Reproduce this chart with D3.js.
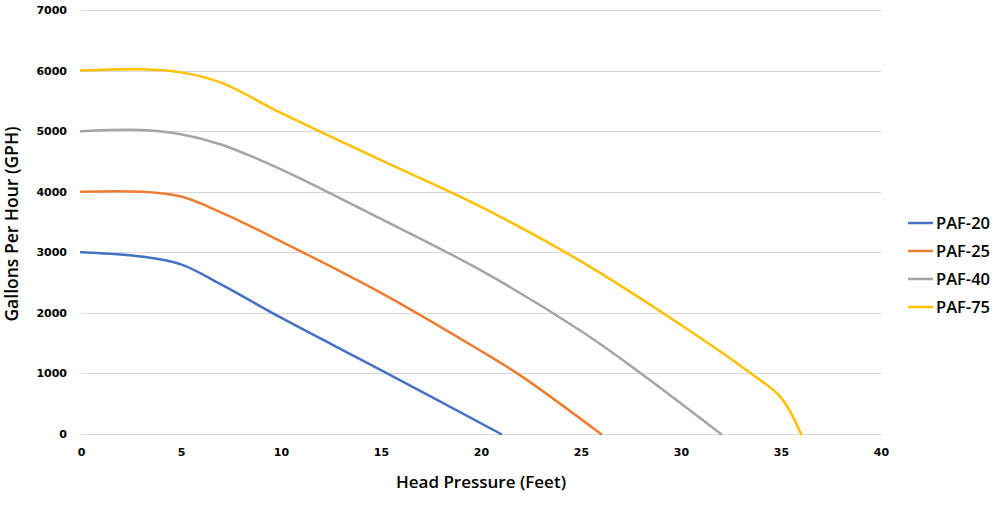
<!DOCTYPE html>
<html><head><meta charset="utf-8">
<script src="https://cdn.jsdelivr.net/npm/d3@7/dist/d3.min.js"></script>
<style>body{margin:0;background:#fff}</style>
</head><body>
<svg id="c" width="1004" height="509"></svg>
<script>
const seriesNames = ["PAF-20", "PAF-25", "PAF-40", "PAF-75"];
const seriesColors = ["#4472C4", "#ED7D31", "#A5A5A5", "#FFC000"];
const paf20 = [[0,3000],[3,2930],[5,2800],[7,2470],[10,1920],[15,1055],[21,0]];
const paf25 = [[0,4000],[3,4000],[5,3920],[7,3660],[10,3180],[15,2330],[20,1370],[22,960],[26,0]];
const paf40 = [[0,5000],[3,5020],[5,4950],[7,4780],[10,4370],[15,3550],[20,2700],[25,1700],[28,1000],[32,0]];
const paf75 = [[0,6000],[3,6020],[5,5970],[7,5800],[10,5300],[15,4520],[20,3750],[25,2850],[30,1800],[33.5,1000],[35,600],[36,0]];
const xTicks = [0,5,10,15,20,25,30,35,40];
const yTicks = [0,1000,2000,3000,4000,5000,6000,7000];
const allSeries = [paf20, paf25, paf40, paf75];

const svg = d3.select("#c");
const x = d3.scaleLinear().domain([0,40]).range([81,881]);
const y = d3.scaleLinear().domain([0,7000]).range([434,10]);

svg.append("g").selectAll("line").data(yTicks).join("line")
  .attr("x1", x(0)).attr("x2", x(40))
  .attr("y1", d=>Math.round(y(d))+0.5).attr("y2", d=>Math.round(y(d))+0.5)
  .attr("stroke", "#d9d9d9").attr("stroke-width", 1);

const yAxis = d3.axisLeft(y).tickValues(yTicks).tickSize(0).tickPadding(14).tickFormat(d3.format("d"));
const gy = svg.append("g").attr("transform", `translate(${x(0)},0)`).call(yAxis);
gy.select(".domain").remove();
gy.selectAll("text").attr("font-family","DejaVu Sans").attr("font-weight","bold").attr("font-size","11px").attr("fill","#000");

const xAxis = d3.axisBottom(x).tickValues(xTicks).tickSize(0).tickPadding(14);
const gx = svg.append("g").attr("transform", `translate(0,${y(0)})`).call(xAxis);
gx.select(".domain").remove();
gx.selectAll("text").attr("font-family","DejaVu Sans").attr("font-weight","bold").attr("font-size","11px").attr("fill","#000");

const line = d3.line().x(d=>x(d[0])).y(d=>y(d[1])).curve(d3.curveCatmullRom.alpha(0.5));
svg.append("g").selectAll("path").data(allSeries).join("path")
  .attr("d", line).attr("fill","none")
  .attr("stroke", (d,i)=>seriesColors[i]).attr("stroke-width", 2.5)
  .attr("stroke-linecap","round");

svg.append("text").attr("x", 481).attr("y", 488).attr("text-anchor","middle")
  .attr("font-family","Open Sans").attr("font-weight","600").attr("font-size","17px").attr("fill","#000")
  .text("Head Pressure (Feet)");
svg.append("text").attr("transform","translate(18,224) rotate(-90)").attr("text-anchor","middle")
  .attr("font-family","Open Sans").attr("font-weight","600").attr("font-size","17.5px").attr("fill","#000")
  .text("Gallons Per Hour (GPH)");

const lg = svg.append("g").selectAll("g").data(seriesNames).join("g")
  .attr("transform", (d,i)=>`translate(908,${223 + i*28})`);
lg.append("line").attr("x1",0).attr("x2",25).attr("y1",0).attr("y2",0)
  .attr("stroke",(d,i)=>seriesColors[i]).attr("stroke-width",2.5);
lg.append("text").attr("x",28).attr("y",6).attr("font-family","Open Sans").attr("font-weight","600")
  .attr("font-size","16.5px").attr("fill","#000").text(d=>d);
</script>
</body></html>
